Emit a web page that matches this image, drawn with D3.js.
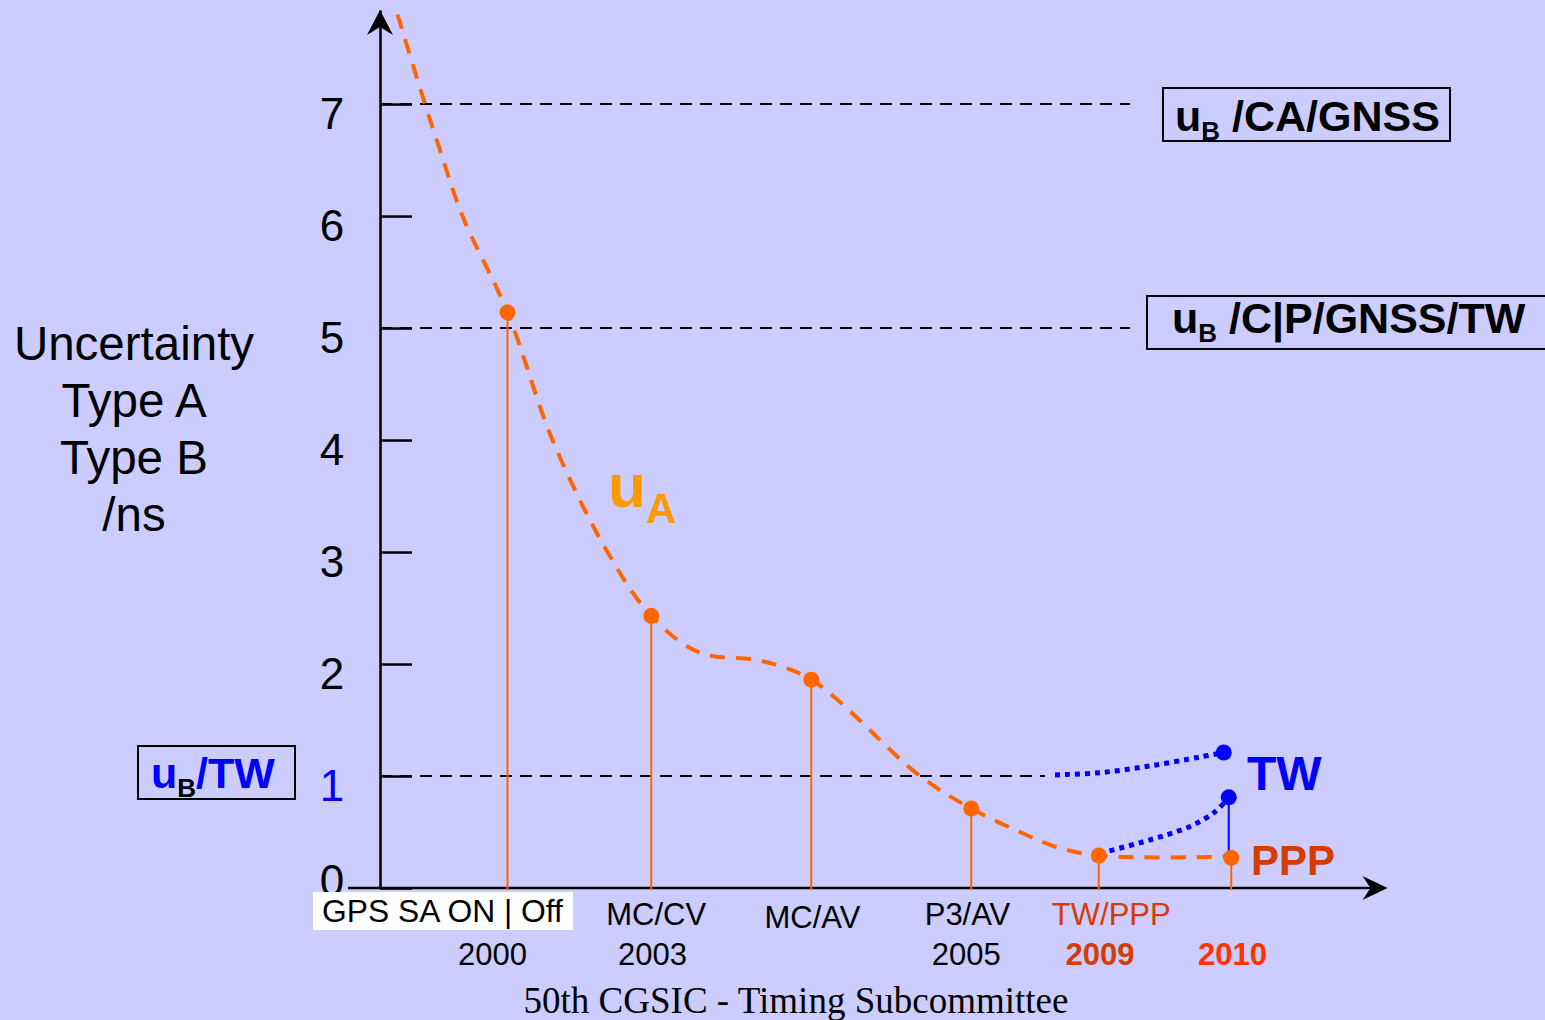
<!DOCTYPE html>
<html>
<head>
<meta charset="utf-8">
<script src="https://cdn.jsdelivr.net/npm/d3@7"></script>
<style>
  body { margin: 0; background: #ccccff; }
  svg { display: block; font-family: "Liberation Sans", Arial, sans-serif; }
</style>
</head>
<body>
<div id="chart"></div>
<script>
// milestones along the x axis (x is in axis units, not years)
const stemX = [1.02, 2.17, 3.45, 4.73, 5.75, 6.81];
const stemY = [5.14, 2.43, 1.86, 0.71, 0.29, 0.27];

// uA trend curve
const uaCurveX = [0.14, 0.36, 0.48, 0.66, 1.02, 1.38, 1.82, 2.17, 2.56, 3.04, 3.45, 4.32, 4.73, 5.12, 5.40, 5.75, 6.81];
const uaCurveY = [7.80, 7.00, 6.59, 6.00, 5.14, 4.00, 3.00, 2.43, 2.10, 2.03, 1.86, 1.00, 0.71, 0.50, 0.37, 0.29, 0.28];

// TW curves (dotted blue)
const twUpperX = [5.40, 5.76, 6.16, 6.56, 6.75];
const twUpperY = [1.01, 1.03, 1.09, 1.17, 1.21];
const twLowerX = [5.76, 6.16, 6.48, 6.68, 6.79];
const twLowerY = [0.31, 0.43, 0.55, 0.68, 0.81];

// reference lines uB
const refValues = [7, 5, 1];
const refEnds = [6.0, 6.0, 5.32];

const yTicks = [0, 1, 2, 3, 4, 5, 6, 7];
const catLabels = ["MC/CV", "MC/AV", "P3/AV", "TW/PPP"];
const catLabelX = [2.21, 3.46, 4.70, 5.85];
const yearLabels = ["2000", "2003", "2005", "2009", "2010"];
const yearLabelX = [0.90, 2.18, 4.69, 5.76, 6.82];

const w = 1545, h = 1020;
const orange = "#ff6600";
const blue = "#0000ff";
const red = "#d43c00";

const x = d3.scaleLinear().domain([0, 8]).range([380, 1380]);
const y = d3.scaleLinear().domain([0, 7.84]).range([888, 10]);

const svg = d3.select("#chart").append("svg").attr("width", w).attr("height", h);
svg.append("rect").attr("width", w).attr("height", h).attr("fill", "#ccccff");

// dashed reference lines
svg.selectAll(".ref").data(refValues).enter().append("line")
  .attr("x1", x(0)).attr("x2", (d, i) => x(refEnds[i]))
  .attr("y1", d => y(d)).attr("y2", d => y(d))
  .attr("stroke", "#000").attr("stroke-width", 2).attr("stroke-dasharray", "12,8");

// y axis
const yAxis = d3.axisLeft(y).tickValues(yTicks).tickSizeInner(-32).tickSizeOuter(0).tickFormat(d3.format("d"));
const gy = svg.append("g").attr("transform", `translate(${x(0)},0)`).call(yAxis);
gy.select(".domain").attr("stroke-width", 2.5);
gy.selectAll(".tick line").attr("stroke-width", 2.5);
gy.selectAll(".tick text")
  .attr("x", -48).attr("dy", 0).attr("y", d => d === 0 ? 7 : 24)
  .attr("text-anchor", "middle").attr("font-size", 44)
  .attr("font-family", "Liberation Sans, Arial, sans-serif")
  .attr("fill", d => d === 1 ? blue : "#000");
svg.append("path")
  .attr("d", `M${x(0)},${y(7.84)} L${x(0) - 13},${y(7.84) + 25} L${x(0)},${y(7.84) + 17} L${x(0) + 13},${y(7.84) + 25} Z`)
  .attr("fill", "#000");

// x axis
svg.append("line").attr("x1", 348).attr("x2", x(8.02)).attr("y1", y(0)).attr("y2", y(0))
  .attr("stroke", "#000").attr("stroke-width", 2.5);
const ax = x(8.06), ay = y(0);
svg.append("path")
  .attr("d", `M${ax},${ay} L${ax - 25},${ay - 12} L${ax - 17},${ay} L${ax - 25},${ay + 12} Z`)
  .attr("fill", "#000");

// stems
svg.selectAll(".stem").data(stemX).enter().append("line")
  .attr("x1", d => x(d)).attr("x2", d => x(d))
  .attr("y1", (d, i) => y(stemY[i])).attr("y2", y(0) + 2)
  .attr("stroke", orange).attr("stroke-width", 2);

// uA curve
const line = d3.line().x(d => x(d[0])).y(d => y(d[1])).curve(d3.curveCatmullRom.alpha(0.5));
svg.append("path").datum(d3.zip(uaCurveX, uaCurveY)).attr("d", line)
  .attr("fill", "none").attr("stroke", orange).attr("stroke-width", 4).attr("stroke-dasharray", "15,11");

// TW curves
[[twUpperX, twUpperY], [twLowerX, twLowerY]].forEach(([xs, ys]) => {
  svg.append("path").datum(d3.zip(xs, ys)).attr("d", line)
    .attr("fill", "none").attr("stroke", blue).attr("stroke-width", 5).attr("stroke-dasharray", "5,5");
});
svg.append("line")
  .attr("x1", x(twLowerX[4])).attr("x2", x(twLowerX[4]))
  .attr("y1", y(twLowerY[4])).attr("y2", y(stemY[5]))
  .attr("stroke", blue).attr("stroke-width", 2);

// dots
svg.selectAll(".dot").data(stemX).enter().append("circle")
  .attr("cx", d => x(d)).attr("cy", (d, i) => y(stemY[i])).attr("r", 8).attr("fill", orange);
svg.selectAll(".tw-dot").data([[twUpperX[4], twUpperY[4]], [twLowerX[4], twLowerY[4]]]).enter().append("circle")
  .attr("cx", d => x(d[0])).attr("cy", d => y(d[1])).attr("r", 8).attr("fill", blue);

// uB boxes
function ubBox(bx, by, bw, bh, tx, ty, rest, color) {
  svg.append("rect").attr("x", bx).attr("y", by).attr("width", bw).attr("height", bh)
    .attr("fill", "none").attr("stroke", "#000").attr("stroke-width", 2);
  const t = svg.append("text").attr("x", tx).attr("y", ty)
    .attr("font-size", 43).attr("font-weight", "bold").attr("fill", color);
  t.append("tspan").text("u");
  t.append("tspan").attr("font-size", 26).attr("dy", 9).attr("fill", "#000").text("B");
  t.append("tspan").attr("dy", -9).text(rest);
}
ubBox(1163, 88, 287, 53, 1175, 131, " /CA/GNSS", "#000");
ubBox(1147, 296, 420, 53, 1172, 333, " /C|P/GNSS/TW", "#000");
ubBox(138, 746, 157, 53, 151, 788, "/TW", blue);

// uA label
const ua = svg.append("text").attr("x", 608).attr("y", 507)
  .attr("font-weight", "bold").attr("fill", "#ff9900").attr("font-size", 62);
ua.append("tspan").text("u");
ua.append("tspan").attr("font-size", 42).attr("dy", 16).text("A");

svg.append("text").attr("x", 1247).attr("y", 790).attr("font-size", 48)
  .attr("font-weight", "bold").attr("fill", blue).text("TW");
svg.append("text").attr("x", 1251).attr("y", 875).attr("font-size", 42)
  .attr("font-weight", "bold").attr("fill", red).text("PPP");

// y label
svg.append("text").attr("text-anchor", "middle").attr("font-size", 47.5)
  .selectAll("tspan").data(["Uncertainty", "Type A", "Type B", "/ns"]).enter().append("tspan")
  .attr("x", 134).attr("y", (d, i) => 360 + i * 57).text(d => d);

// bottom labels
svg.append("rect").attr("x", 313).attr("y", 892).attr("width", 260).attr("height", 38).attr("fill", "#fff");
svg.append("text").attr("x", 322).attr("y", 922).attr("font-size", 31.8).text("GPS SA ON | Off");
svg.selectAll(".cat").data(catLabels).enter().append("text")
  .attr("x", (d, i) => x(catLabelX[i])).attr("y", (d, i) => i === 1 ? 928 : 925)
  .attr("text-anchor", "middle").attr("font-size", 31)
  .attr("fill", (d, i) => i === 3 ? red : "#000").text(d => d);
svg.selectAll(".year").data(yearLabels).enter().append("text")
  .attr("x", (d, i) => x(yearLabelX[i])).attr("y", 965)
  .attr("text-anchor", "middle").attr("font-size", 31)
  .attr("font-weight", (d, i) => i >= 3 ? "bold" : "normal")
  .attr("fill", (d, i) => i === 3 ? red : i === 4 ? "#ff3300" : "#000").text(d => d);

svg.append("text").attr("x", 796).attr("y", 1013).attr("text-anchor", "middle")
  .attr("font-family", "Liberation Serif, Times New Roman, serif").attr("font-size", 37)
  .text("50th CGSIC - Timing Subcommittee");
</script>
</body>
</html>
